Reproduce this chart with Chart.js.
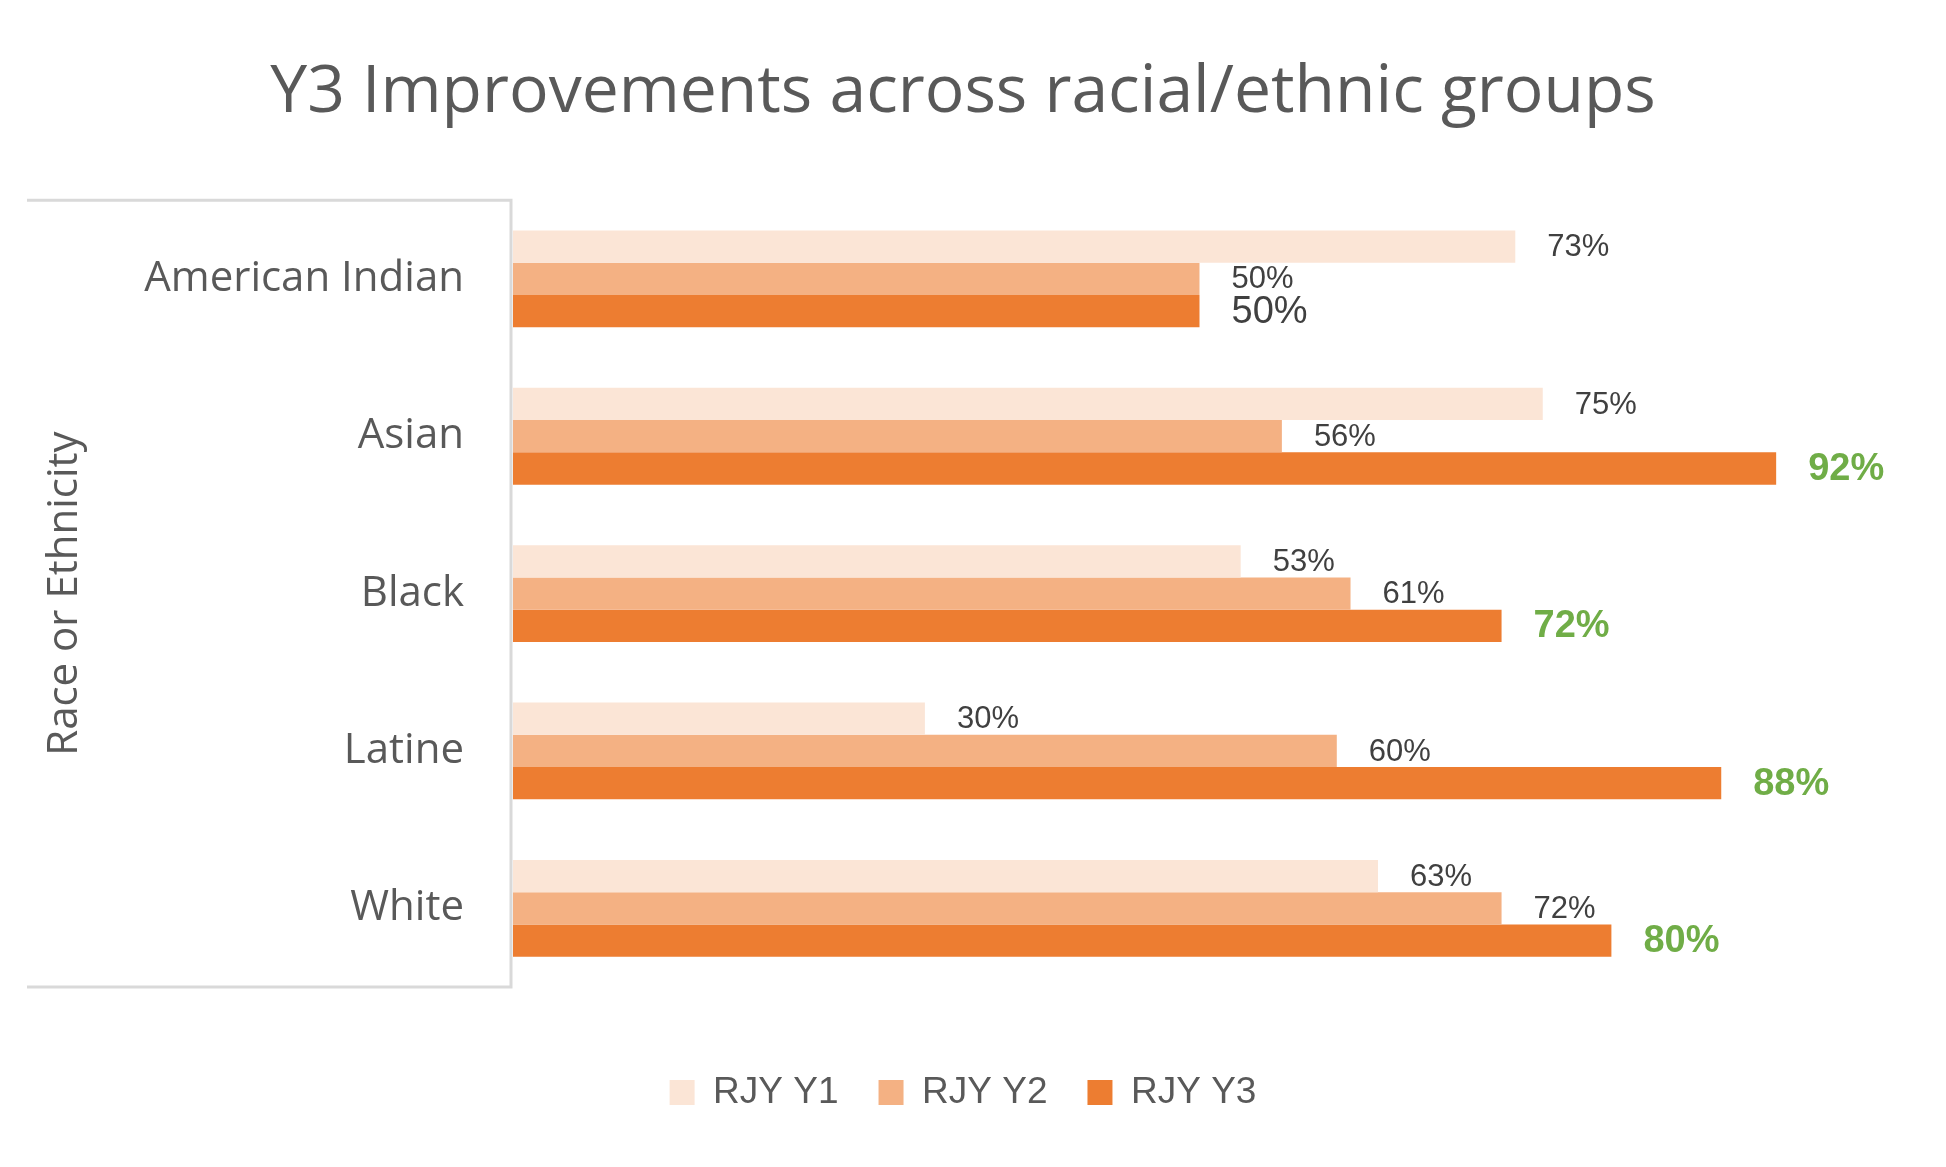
<!DOCTYPE html>
<html>
<head>
<meta charset="utf-8">
<script src="https://cdn.jsdelivr.net/npm/chart.js@4"></script>
<style>
  html, body { margin: 0; padding: 0; background: #ffffff; }
  #wrap { width: 1946px; height: 1167px; }
</style>
</head>
<body>
<div id="wrap"><canvas id="improvements-bar"></canvas></div>
<script>
const groups = ["American Indian", "Asian", "Black", "Latine", "White"];
const seriesNames = ["RJY Y1", "RJY Y2", "RJY Y3"];
const y1Values = [73, 75, 53, 30, 63];
const y2Values = [50, 56, 61, 60, 72];
const y3Values = [50, 92, 72, 88, 80];
const seriesColors = ["#FBE5D6", "#F4B183", "#ED7D31"];

const textGray = "#595959";
const labelGray = "#404040";
const highlightGreen = "#70AD47";

// value labels at the end of each bar; Y3 is green when it beats both earlier years
const barLabels = {
  id: "barLabels",
  afterDatasetsDraw(chart) {
    const ctx = chart.ctx;
    ctx.save();
    ctx.textBaseline = "middle";
    ctx.textAlign = "left";
    chart.data.datasets.forEach((ds, i) => {
      chart.getDatasetMeta(i).data.forEach((bar, j) => {
        const v = ds.data[j];
        if (i === 2) {
          const improved = v > Math.max(y1Values[j], y2Values[j]);
          ctx.font = (improved ? "bold " : "") + "38px 'Liberation Sans', Arial, sans-serif";
          ctx.fillStyle = improved ? highlightGreen : labelGray;
        } else {
          ctx.font = "31px 'Liberation Sans', Arial, sans-serif";
          ctx.fillStyle = labelGray;
        }
        ctx.fillText(v + "%", bar.x + 32, bar.y + 1);
      });
    });
    ctx.restore();
  }
};

// light frame around the category label area
const labelFrame = {
  id: "labelFrame",
  beforeDraw(chart) {
    const { ctx, chartArea } = chart;
    const y = chart.scales.y;
    ctx.save();
    ctx.strokeStyle = "#D9D9D9";
    ctx.lineWidth = 3;
    ctx.beginPath();
    ctx.moveTo(chartArea.left - 2, chartArea.top);
    ctx.lineTo(y.left - 13, chartArea.top);
    ctx.moveTo(y.left - 13, chartArea.bottom);
    ctx.lineTo(chartArea.left - 2, chartArea.bottom);
    ctx.moveTo(chartArea.left - 2, chartArea.top - 1.5);
    ctx.lineTo(chartArea.left - 2, chartArea.bottom + 1.5);
    ctx.stroke();
    ctx.restore();
  }
};

const ctx = document.getElementById("improvements-bar").getContext("2d");

new Chart(ctx, {
  type: "bar",
  data: {
    labels: groups,
    datasets: [
      { label: seriesNames[0], data: y1Values, backgroundColor: seriesColors[0] },
      { label: seriesNames[1], data: y2Values, backgroundColor: seriesColors[1] },
      { label: seriesNames[2], data: y3Values, backgroundColor: seriesColors[2] }
    ]
  },
  options: {
    indexAxis: "y",
    responsive: true,
    maintainAspectRatio: false,
    animation: false,
    datasets: {
      bar: { categoryPercentage: 0.615, barPercentage: 1.0, borderWidth: 0 }
    },
    layout: { padding: { left: 40, right: 60, top: 0, bottom: 46 } },
    scales: {
      x: {
        min: 0,
        max: 100,
        grid: { display: false },
        border: { display: false },
        ticks: { display: false },
        afterFit(scale) { scale.height = 47; }
      },
      y: {
        grid: { display: false, drawTicks: false },
        border: { display: false },
        ticks: {
          color: textGray,
          padding: 49,
          font: { family: "'Open Sans', sans-serif", size: 42 }
        },
        title: {
          display: true,
          text: "Race or Ethnicity",
          color: textGray,
          padding: 0,
          font: { family: "'Open Sans', sans-serif", size: 42 }
        },
        afterFit(scale) { scale.width = 473; }
      }
    },
    plugins: {
      title: {
        display: true,
        text: "Y3 Improvements across racial/ethnic groups",
        color: textGray,
        padding: { top: 54, bottom: 67 },
        font: { family: "'Open Sans', sans-serif", size: 66, weight: "normal" }
      },
      legend: {
        position: "bottom",
        labels: {
          color: textGray,
          boxWidth: 25,
          boxHeight: 25,
          padding: 40,
          font: { family: "'Liberation Sans', Arial, sans-serif", size: 37 }
        }
      },
      tooltip: { enabled: false }
    }
  },
  plugins: [labelFrame, barLabels]
});
</script>
</body>
</html>
